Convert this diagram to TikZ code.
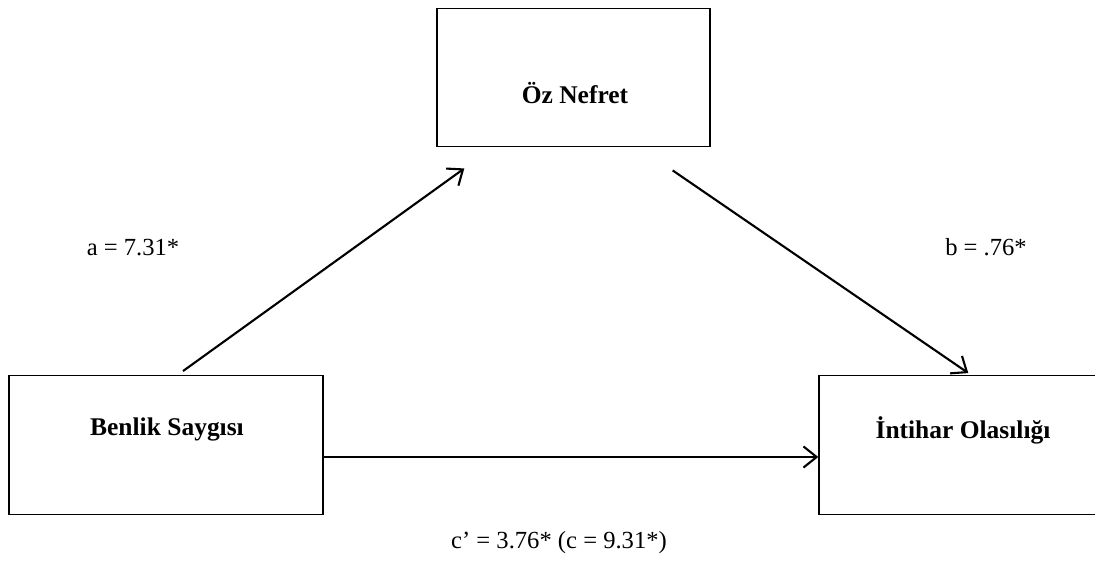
\documentclass[tikz,border=0pt]{standalone}
\usepackage{fontspec}
\setmainfont{Liberation Serif}
\usetikzlibrary{arrows.meta}

\begin{document}
\begin{tikzpicture}[x=0.02cm,y=-0.02cm]
\tikzstyle{every node}+=[inner sep=0pt]
\tikzstyle{varbox}=[draw=black, line width=0.8pt, minimum height=2.77cm]
\tikzstyle{varname}=[font=\fontsize{14.5}{16}\selectfont\bfseries, anchor=base]
\tikzstyle{coeflabel}=[font=\fontsize{14}{16}\selectfont, anchor=base]
\tikzstyle{patharrow}=[black, line width=1.2pt, -{Straight Barb[length=7.5pt,width=12pt]}]
\useasboundingbox (0,0) rectangle (1095,561);
\clip (0,0) rectangle (1095,561);
% boxes
\node [varbox, minimum width=5.46cm] (oz) at (573.5,77.5) {};
\node [varbox, minimum width=6.28cm] (benlik) at (166,445) {};
\node [varbox, minimum width=5.8cm] (intihar) at (964,445) {};
\node [varname] (oztext) at (575,103) {Öz Nefret};
\node [varname] (benliktext) at (167,435) {Benlik Saygısı};
\node [varname] (intihartext) at (963,438) {İntihar Olasılığı};
% paths
\draw [patharrow] ([xshift=0.34cm,yshift=0.08cm]benlik.north) -- ([xshift=0.56cm,yshift=-0.42cm]oz.south west);
\draw [patharrow] ([xshift=-0.76cm,yshift=-0.46cm]oz.south east) -- ([xshift=3cm,yshift=0.04cm]intihar.north west);
\draw [patharrow] ([yshift=-0.24cm]benlik.east) -- ([yshift=-0.24cm]intihar.west);
% coefficients
\node [coeflabel] (a) at (133,255) {a = 7.31*};
\node [coeflabel] (b) at (986,255) {b = .76*};
\node [coeflabel] (c) at (559,548) {c’ = 3.76* (c = 9.31*)};
\end{tikzpicture}
\end{document}
